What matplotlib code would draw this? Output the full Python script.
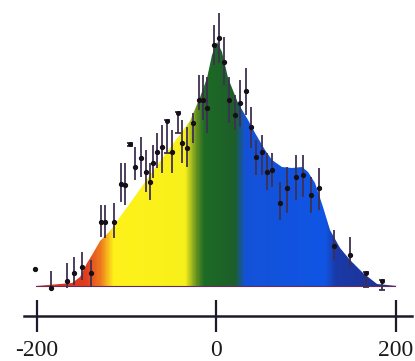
import numpy as np
import matplotlib
matplotlib.use("Agg")
import matplotlib.pyplot as plt
from matplotlib.colors import LinearSegmentedColormap

plt.rcParams['axes.unicode_minus'] = False

# ---- data ----
# envelope of the filled distribution
env_x = [-200.6, -173.8, -160.4, -151.5, -143.7, -138.2, -129.2, -118.1, -107.0, -92.5,
         -73.5, -51.3, -29.0, -17.8, -10.0, -4.5, 1.1, 6.7, 13.4, 24.5, 35.7, 43.5,
         54.6, 62.4, 73.5, 84.7, 95.8, 102.5, 110.3, 119.2, 127.0, 138.2, 149.3,
         163.8, 179.4, 201.7]
env_y = [0, 2, 3, 9, 23, 31, 45, 55, 69, 87,
         111, 138, 165, 189, 208, 231, 244, 234, 208, 183, 166, 153,
         136, 126, 119, 118, 119, 114, 103, 79, 56, 38, 26,
         13, 2, 0]

# data points with asymmetric error bars
pt_x = [-201.7, -183.8, -166.0, -158.2, -149.3, -139.3, -128.1, -123.7, -113.6, -105.8,
        -101.4, -90.3, -83.6, -78.0, -73.5, -70.2, -65.7, -60.2, -49.0, -37.9,
        -32.3, -25.6, -18.9, -14.5, -10.0, -2.2, 3.3, 8.9, 14.5, 21.2,
        26.7, 33.4, 39.0, 44.6, 51.3, 56.8, 62.4, 71.3, 79.1, 89.1,
        96.9, 105.8, 114.8, 131.5, 149.3]
pt_y = [17, -2, 5, 13, 19, 13, 64, 64, 64, 102,
        101, 119, 128, 114, 104, 123, 134, 139, 134, 143,
        138, 163, 186, 186, 178, 241, 248, 224, 186, 171,
        183, 195, 159, 129, 134, 114, 116, 83, 98, 109,
        111, 91, 98, 40, 31]
pt_lo = [1, 2, 7, 12, 13, 14, 15, 16, 16, 18,
         20, 13, 19, 20, 18, 15, 16, 26, 21, 20,
         19, 20, 10, 20, 25, 20, 25, 23, 23, 15,
         24, 24, 21, 18, 23, 18, 17, 17, 25, 23,
         22, 18, 22, 14, 12]
pt_hi = [2, 17, 18, 16, 15, 13, 17, 17, 19, 21,
         22, 20, 21, 22, 19, 18, 19, 22, 22, 23,
         21, 10, 25, 25, 31, 20, 25, 25, 23, 20,
         23, 23, 20, 17, 17, 19, 17, 21, 21, 22,
         20, 18, 20, 16, 18]

# capped points (marker at the top of a downward bar)
cap_x = [-95.8, -54.6, -42.3, 167.1, 185.0]
cap_y = [142, 165, 173, 13, 5]
cap_lo = [2, 32, 20, 14, 9]
cap_hi = [1, 1, 1, 1, 1]

tick_vals = [-200, 0, 200]
tick_labels = ['-200', '0', '200']

# colour stops along x
stop_x = [-200.6, -146, -129, -115, -35, -23, -14, 21, 32, 121, 133, 201.7]
stop_c = ['#d82a1a', '#e03c1e', '#ee7a1e', '#fff21a', '#f8f01a', '#6a9420',
          '#1e6b26', '#1d5e2a', '#1452d8', '#1055e5', '#1a3aa8', '#20308e']

# ---- figure ----
fig = plt.figure(figsize=(4.15, 3.61), dpi=100)
ax = fig.add_axes([0, 0, 1, 1])
ax.set_xlim(-240.7, 221.7)
ax.set_ylim(-75, 286)

# gradient fill clipped to envelope
x0, x1 = stop_x[0], stop_x[-1]
pos = [(s - x0) / (x1 - x0) for s in stop_x]
cmap = LinearSegmentedColormap.from_list('spec', list(zip(pos, stop_c)))
poly = ax.fill_between(env_x, 0, env_y, color='none', lw=0)
grad = np.linspace(0, 1, 600).reshape(1, -1)
im = ax.imshow(grad, cmap=cmap, aspect='auto', extent=[x0, x1, 0, max(env_y) + 5],
               origin='lower', interpolation='bilinear', zorder=1)
path = poly.get_paths()[0]
im.set_clip_path(path, transform=ax.transData)

# thin baseline under the fill
ax.plot([x0, x1 - 2], [0, 0], color='#6a2a5a', lw=0.8, zorder=2)

# error bars
ax.errorbar(pt_x, pt_y, yerr=[pt_lo, pt_hi], fmt='o', color='#151018', ms=2.8,
            ecolor='#3e3050', elinewidth=1.3, capsize=0, zorder=3)
ax.errorbar(cap_x, cap_y, yerr=[cap_lo, cap_hi], fmt='o', color='#151018', ms=2.6,
            ecolor='#3e3050', elinewidth=1.3, capsize=2.5, capthick=1.3, zorder=3)

# axis
for s in ['left', 'right', 'top']:
    ax.spines[s].set_visible(False)
ax.spines['bottom'].set_position(('data', -30))
ax.spines['bottom'].set_bounds(-213.9, 218.4)
ax.spines['bottom'].set_linewidth(1.8)
ax.spines['bottom'].set_color('#1a1a2a')
ax.set_yticks([])
ax.set_xticks(tick_vals)
ax.set_xticklabels(tick_labels, fontfamily='Liberation Serif', fontsize=17, color='#1a1a1a')
ax.tick_params(axis='x', direction='inout', length=23, width=1.6, color='#1a1a2a', pad=6)

fig.savefig('out.png', dpi=100)
